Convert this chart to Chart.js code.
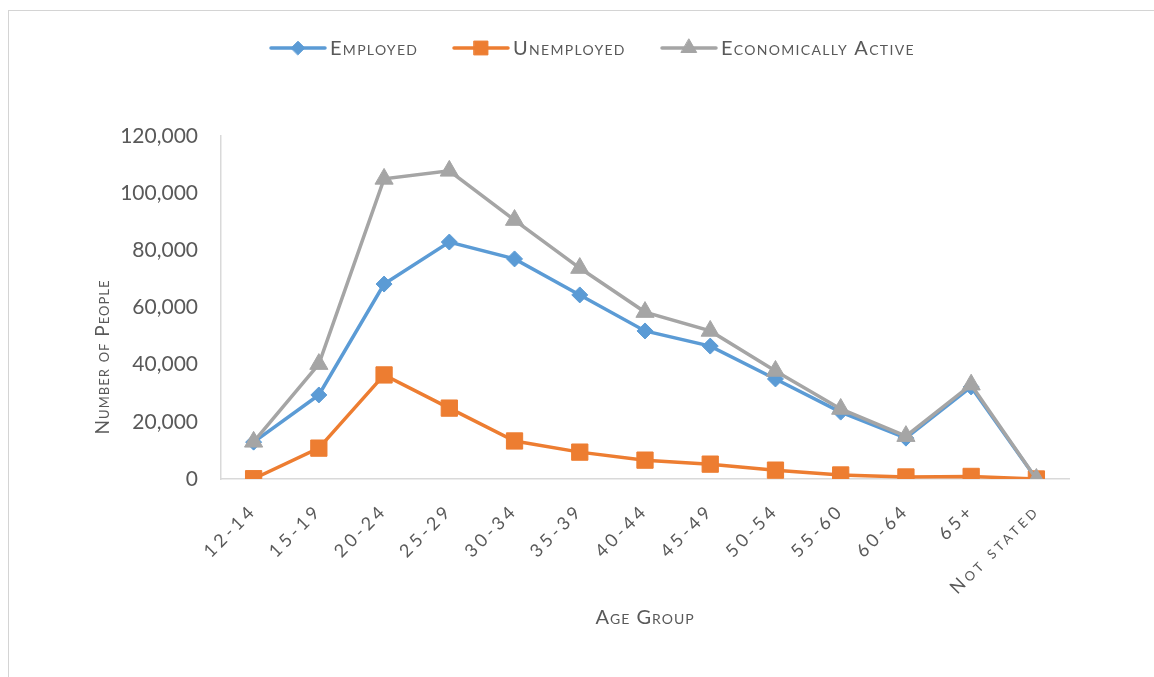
<!DOCTYPE html>
<html><head><meta charset="utf-8">
<script src="https://cdn.jsdelivr.net/npm/chart.js@4.4.1/dist/chart.umd.min.js"></script>
<style>
html,body{margin:0;padding:0;background:#fff;overflow:hidden;}
#wrap{position:relative;width:1154px;height:677px;overflow:hidden;}
#frame{position:absolute;left:8px;top:10px;width:1400px;height:900px;border-left:1px solid #d4d4d4;border-top:1px solid #d4d4d4;}
canvas{position:absolute;left:0;top:0;}
</style></head><body>
<div id="wrap"><div id="frame"></div><canvas id="c" width="1154" height="677"></canvas></div>
<script>
const ageGroups = ['12-14','15-19','20-24','25-29','30-34','35-39','40-44','45-49','50-54','55-60','60-64','65+','Not stated'];
const employed = [12900, 29400, 68200, 82900, 77000, 64400, 51800, 46500, 35000, 23400, 14300, 32200, 0];
const unemployed = [100, 10800, 36400, 24800, 13300, 9400, 6600, 5200, 3100, 1400, 700, 900, 0];
const economicallyActive = [13000, 40200, 105000, 107800, 90600, 73800, 58400, 51800, 37800, 24500, 15000, 33000, 0];
const yTickValues = [0, 20000, 40000, 60000, 80000, 100000, 120000];
const seriesNames = ['Employed', 'Unemployed', 'Economically Active'];
const seriesColors = ['#5B9BD5', '#ED7D31', '#A5A5A5'];
const seriesMarkers = ['rectRot', 'rect', 'triangle'];
const markerRadius = [8, 11.5, 10.5];

const TXT = '#595959';

function drawMarker(ctx, style, r, x, y, color) {
  ctx.save();
  ctx.fillStyle = color; ctx.strokeStyle = color; ctx.lineWidth = 1;
  ctx.beginPath();
  if (style === 'rectRot') {
    ctx.moveTo(x - r, y); ctx.lineTo(x, y - r); ctx.lineTo(x + r, y); ctx.lineTo(x, y + r);
  } else if (style === 'rect') {
    const s = Math.SQRT1_2 * r;
    ctx.rect(x - s, y - s, 2 * s, 2 * s);
  } else {
    const a = Math.PI * 2 / 3;
    ctx.moveTo(x, y - r);
    ctx.lineTo(x + Math.sin(a) * r, y - Math.cos(a) * r);
    ctx.lineTo(x - Math.sin(a) * r, y - Math.cos(a) * r);
  }
  ctx.closePath(); ctx.fill(); ctx.stroke();
  ctx.restore();
}

const decorPlugin = {
  id: 'decor',
  afterLayout(chart) {
    const s = chart.scales.x;
    if (!s._patched) {
      const origLabels = s.drawLabels;
      s.drawLabels = function (area) {
        const c = this.ctx; c.save(); c.letterSpacing = '3.5px'; origLabels.call(this, area); c.restore();
      };
      const origTitle = s.drawTitle;
      s.drawTitle = function (area) {
        const c = this.ctx; c.save(); c.letterSpacing = '1px'; origTitle.call(this, area); c.restore();
      };
      s._patched = true;
    }
  },
  afterDraw(chart) {
    const ctx = chart.ctx;
    const lineStarts = [271, 454, 662];
    const legendY = 48;
    ctx.save();
    ctx.font = 'small-caps 20px Lato';
    ctx.letterSpacing = '1.3px';
    ctx.textBaseline = 'middle';
    ctx.textAlign = 'left';
    seriesNames.forEach((name, i) => {
      const x0 = lineStarts[i];
      ctx.strokeStyle = seriesColors[i]; ctx.lineWidth = 3.5; ctx.lineCap = 'round';
      ctx.beginPath(); ctx.moveTo(x0, legendY); ctx.lineTo(x0 + 54, legendY); ctx.stroke();
      drawMarker(ctx, seriesMarkers[i], markerRadius[i] * 0.85, x0 + 27, legendY, seriesColors[i]);
      ctx.fillStyle = TXT;
      ctx.fillText(name, x0 + 59, legendY + 1);
    });
    ctx.restore();
    ctx.save();
    ctx.translate(103, 357);
    ctx.rotate(-Math.PI / 2);
    ctx.font = 'small-caps 19px Lato';
    ctx.letterSpacing = '1px';
    ctx.fillStyle = TXT;
    ctx.textAlign = 'center';
    ctx.textBaseline = 'middle';
    ctx.fillText('Number of People', 0, 0);
    ctx.restore();
  }
};

const datasets = [employed, unemployed, economicallyActive].map((data, i) => ({
  label: seriesNames[i],
  data: data,
  borderColor: seriesColors[i],
  backgroundColor: seriesColors[i],
  borderWidth: 3.5,
  pointStyle: seriesMarkers[i],
  pointRadius: markerRadius[i],
  pointHoverRadius: markerRadius[i],
  pointBorderWidth: 1,
  pointBackgroundColor: seriesColors[i],
  pointBorderColor: seriesColors[i],
  tension: 0,
  order: 3 - i
}));

new Chart(document.getElementById('c'), {
  type: 'line',
  data: { labels: ageGroups, datasets: datasets },
  options: {
    responsive: false,
    animation: false,
    devicePixelRatio: 1,
    layout: { padding: { top: 136, right: 85, bottom: 0, left: 0 } },
    plugins: { legend: { display: false }, tooltip: { enabled: false } },
    scales: {
      x: {
        offset: true,
        grid: { display: true, drawOnChartArea: false, drawTicks: false },
        border: { display: true, color: '#d9d9d9', width: 1.5 },
        ticks: {
          color: TXT, font: { family: 'Lato', size: 18, weight: 'small-caps' },
          minRotation: 45, maxRotation: 45, padding: 21, autoSkip: false
        },
        title: {
          display: true, text: 'Age Group', color: TXT,
          font: { family: 'Lato', size: 20, weight: 'small-caps' },
          padding: { top: 0, bottom: 47 }
        },
        afterFit(s) { s.height = 198; }
      },
      y: {
        min: 0, max: 120000,
        grid: { display: true, drawOnChartArea: false, drawTicks: false },
        border: { display: true, color: '#d9d9d9', width: 1.5 },
        ticks: {
          color: TXT, font: { family: 'Lato', size: 21 }, padding: 23,
          callback: v => v.toLocaleString('en-US')
        },
        afterBuildTicks(s) { s.ticks = yTickValues.map(v => ({ value: v })); },
        afterFit(s) { s.width = 221; }
      }
    }
  },
  plugins: [decorPlugin]
});
</script>
</body></html>
